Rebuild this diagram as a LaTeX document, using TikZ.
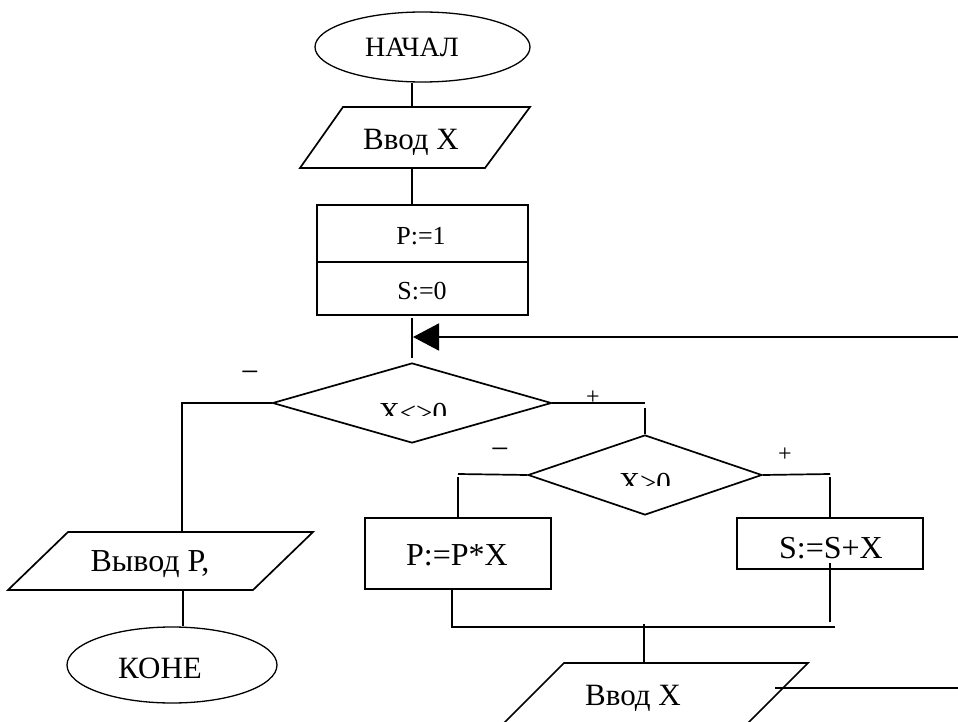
\documentclass[tikz,border=0pt]{standalone}
\usepackage{fontspec}
\setmainfont{Liberation Serif}
\usetikzlibrary{shapes.geometric,arrows.meta}
\begin{document}
\begin{tikzpicture}[x=1pt,y=-1pt,
  ln/.style={line width=1.7pt, line join=miter},
  el/.style={draw, ellipse, line width=1.3pt, inner sep=0pt},
  box/.style={draw, rectangle, line width=1.7pt, inner sep=0pt},
  dia/.style={draw, diamond, line width=1.7pt, inner sep=0pt},
  txt/.style={inner sep=0pt, anchor=base},
  fA/.style={font=\fontsize{28}{33}\selectfont},
  fB/.style={font=\fontsize{26}{31}\selectfont},
  fC/.style={font=\fontsize{29}{34}\selectfont},
  fD/.style={font=\fontsize{31}{37}\selectfont},
  fE/.style={font=\fontsize{32}{38}\selectfont},
  fP/.style={font=\fontsize{24}{28}\selectfont},
  sgn/.style={inner sep=0pt, anchor=center}
]
\useasboundingbox (0,0) rectangle (958,722);

% start ellipse
\node[el, minimum width=215pt, minimum height=70pt] (start) at (422.5,47) {};
\node[txt,fA] (tstart) at (412,57) {НАЧАЛ};

% input X (top)
\coordinate (in1n) at (412,107);
\coordinate (in1s) at (412,168);
\draw[ln] (343,107) -- (530,107) -- (485,168) -- (300,168) -- cycle;
\node[txt,fD] (tin1) at (411,150) {Ввод X};
\draw[ln] (start.south -| in1n) -- (in1n);

% init box
\node[box, minimum width=211pt, minimum height=110pt] (init) at (422.5,260) {};
\coordinate (div) at (422.5,262);
\draw[ln] (init.west |- div) -- (init.east |- div);
\node[txt,fB] (tp1) at (421,244) {P:=1};
\node[txt,fB] (ts0) at (422,299) {S:=0};
\draw[ln] (in1s) -- (in1s |- init.north);

% loop junction with arrow
\coordinate (jtop) at (412,318);
\coordinate (jbot) at (412,358);
\coordinate (jn) at (413,337);
\coordinate (loopend) at (958,337);
\draw[ln] (jtop) -- (jbot);
\draw[ln, -{Triangle[length=26pt,width=27pt]}] (loopend) -- (jn);

% diamond 1
\node[dia, minimum width=279pt, minimum height=80pt] (d1) at (412,403) {};
\begin{scope}
  \clip (340,380) rectangle (490,415);
  \node[txt,fC] (td1) at (413,422) {X<>0};
\end{scope}

% left branch (minus)
\coordinate (lb) at (182,401);
\coordinate (outn) at (182,532);
\draw[ln] (d1.west) -- (d1.west -| lb) -- (outn);
\node[sgn,fE] (m1) at (250,377) {−};

% right branch (plus)
\coordinate (rb) at (645,403);
\coordinate (rbv) at (645,408);
\draw[ln] (d1.east) -- (rb);
\node[sgn,fP] (p1) at (593,398) {+};

% diamond 2
\node[dia, minimum width=234pt, minimum height=80pt] (d2) at (645,475) {};
\draw[ln] (rbv) -- (d2.north);
\begin{scope}
  \clip (580,460) rectangle (710,485);
  \node[txt,fC] (td2) at (645,492) {X>0};
\end{scope}

% P:=P*X
\node[box, minimum width=186pt, minimum height=71pt] (pmul) at (458,553.5) {};
\node[txt,fE] (tpm) at (457,565) {P:=P*X};
\coordinate (l2) at (458,474);
\coordinate (l2v) at (458,477);
\draw[ln] (d2.west) -- (l2);
\draw[ln] (l2v) -- (pmul.north);
\node[sgn,fE] (m2) at (500,454) {−};

% S:=S+X
\node[box, minimum width=186pt, minimum height=51pt] (sadd) at (830,543.5) {};
\node[txt,fE] (tsa) at (831,558) {S:=S+X};
\coordinate (r2) at (830,474);
\coordinate (r2v) at (830,477);
\draw[ln] (d2.east) -- (r2);
\draw[ln] (r2v) -- (sadd.north);
\node[sgn,fP] (p2) at (785,455) {+};

% merge
\coordinate (pb) at (452,589);
\coordinate (mL) at (452,627);
\coordinate (mR) at (835,627);
\coordinate (sb) at (830,563);
\coordinate (sbe) at (830,622);
\coordinate (merge) at (644,624);
\draw[ln] (pb) -- (mL) -- (mR);
\draw[ln] (sb) -- (sbe);

% input X (bottom)
\coordinate (in2n) at (644,663);
\draw[ln] (564,663) -- (808,663) -- (748,723) -- (504,723) -- cycle;
\node[txt,fD] (tin2) at (633,705) {Ввод X};
\draw[ln] (merge) -- (in2n);
\coordinate (in2r) at (775,688);
\coordinate (loopdown) at (958,688);
\draw[ln] (in2r) -- (loopdown);

% output
\draw[ln] (68,532) -- (313,532) -- (253,590) -- (8,590) -- cycle;
\node[txt,fE] (tout) at (150,571) {Вывод Р,};
\coordinate (outs) at (183,590);

% end ellipse
\node[el, minimum width=210pt, minimum height=76pt] (end) at (172,665) {};
\node[txt,fD] (tend) at (160,678) {КОНЕ};
\draw[ln] (outs) -- (outs |- end.north);
\end{tikzpicture}
\end{document}
